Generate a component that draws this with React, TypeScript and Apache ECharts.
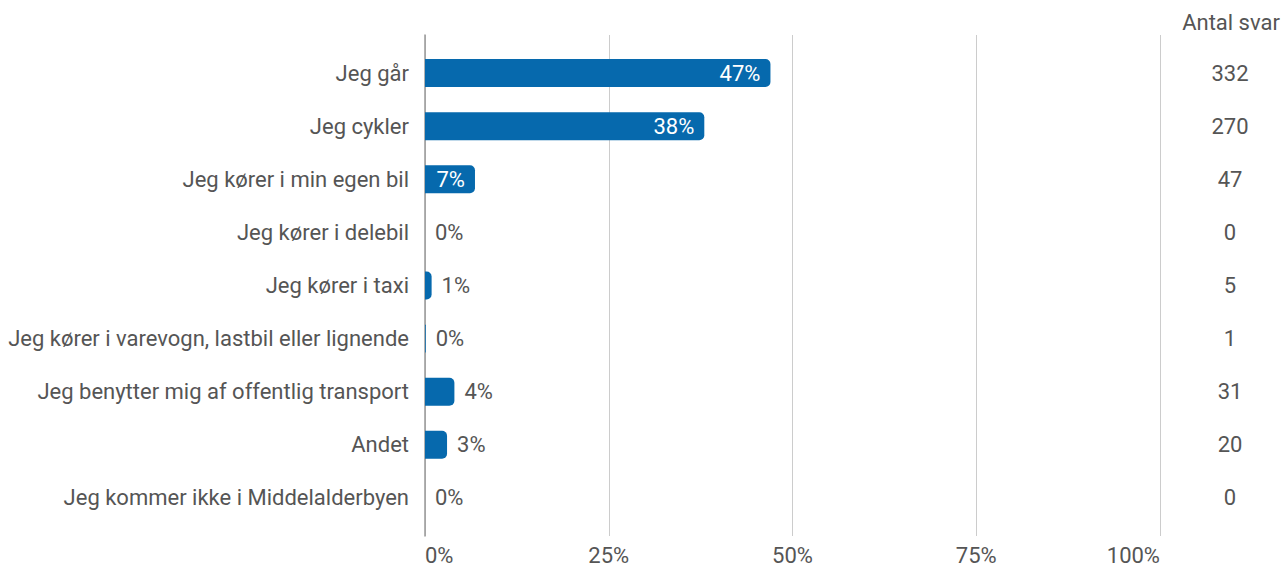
import React, { useEffect, useRef } from "react";
import * as echarts from "echarts";

const categories = [
  "Jeg går",
  "Jeg cykler",
  "Jeg kører i min egen bil",
  "Jeg kører i delebil",
  "Jeg kører i taxi",
  "Jeg kører i varevogn, lastbil eller lignende",
  "Jeg benytter mig af offentlig transport",
  "Andet",
  "Jeg kommer ikke i Middelalderbyen",
];
const percentValues = [47, 38, 6.8, 0, 0.9, 0.1, 4.0, 3.0, 0];
const answerCounts = ["332", "270", "47", "0", "5", "1", "31", "20", "0"];
const xTicks = [0, 25, 50, 75, 100];
const countHeader = "Antal svar";

const FONT = "Roboto, 'Noto Sans', sans-serif";
const TEXT = "#555555";
const BAR = "#0669ad";
const FS = 22;

export default function App() {
  const ref = useRef<HTMLDivElement>(null);
  useEffect(() => {
    if (!ref.current) return;
    const chart = echarts.init(ref.current, null, { renderer: "svg" });
    const data = percentValues.map((v) => {
      const inside = v >= 6;
      return {
        value: v,
        label: {
          show: true,
          position: inside ? "insideRight" : "right",
          distance: 10,
          color: inside ? "#ffffff" : TEXT,
          fontSize: FS,
          fontFamily: FONT,
          formatter: () => Math.round(v) + "%",
        },
      };
    });
    chart.setOption({
      animation: false,
      textStyle: { fontFamily: FONT },
      grid: [
        { left: 425, right: 123, top: 35, bottom: 31 },
        { left: 425, right: 123, top: 46.5, bottom: 42.5 },
      ],
      xAxis: [
        {
          gridIndex: 0,
          type: "value",
          min: xTicks[0],
          max: xTicks[xTicks.length - 1],
          interval: 25,
          axisLine: { show: false },
          axisTick: { show: false },
          splitLine: { show: true, lineStyle: { color: "#cccccc", width: 1 } },
          axisLabel: {
            formatter: "{value}%",
            color: TEXT,
            fontSize: FS,
            fontFamily: FONT,
            margin: 8,
            alignMinLabel: "left",
            alignMaxLabel: "right",
          },
        },
        {
          gridIndex: 1,
          type: "value",
          min: 0,
          max: 100,
          show: false,
        },
      ],
      yAxis: [
        {
          gridIndex: 0,
          type: "value",
          axisLine: { show: true, lineStyle: { color: "#999999", width: 1.5 } },
          axisTick: { show: false },
          axisLabel: { show: false },
          splitLine: { show: false },
        },
        {
          gridIndex: 1,
          type: "category",
          inverse: true,
          data: categories,
          axisLine: { show: false },
          axisTick: { show: false },
          splitLine: { show: false },
          axisLabel: {
            color: TEXT,
            fontSize: FS,
            fontFamily: FONT,
            margin: 16,
          },
        },
        {
          gridIndex: 1,
          type: "category",
          position: "right",
          inverse: true,
          data: answerCounts,
          axisLine: { show: false },
          axisTick: { show: false },
          splitLine: { show: false },
          axisLabel: {
            color: TEXT,
            fontSize: FS,
            fontFamily: FONT,
            margin: 70,
            align: "center",
          },
        },
      ],
      graphic: [
        {
          type: "text",
          x: 1231,
          y: 22,
          style: {
            text: countHeader,
            fill: TEXT,
            fontSize: FS,
            fontFamily: FONT,
            textAlign: "center",
            textVerticalAlign: "middle",
          },
        },
      ],
      series: [
        {
          type: "bar",
          xAxisIndex: 1,
          yAxisIndex: 1,
          barWidth: 28,
          itemStyle: { color: BAR, borderRadius: [0, 5, 5, 0] },
          data,
        },
      ],
    });
    return () => chart.dispose();
  }, []);
  return (
    <div
      ref={ref}
      style={{ position: "fixed", left: 0, top: 0, width: 1283, height: 567, background: "#fff" }}
    />
  );
}
